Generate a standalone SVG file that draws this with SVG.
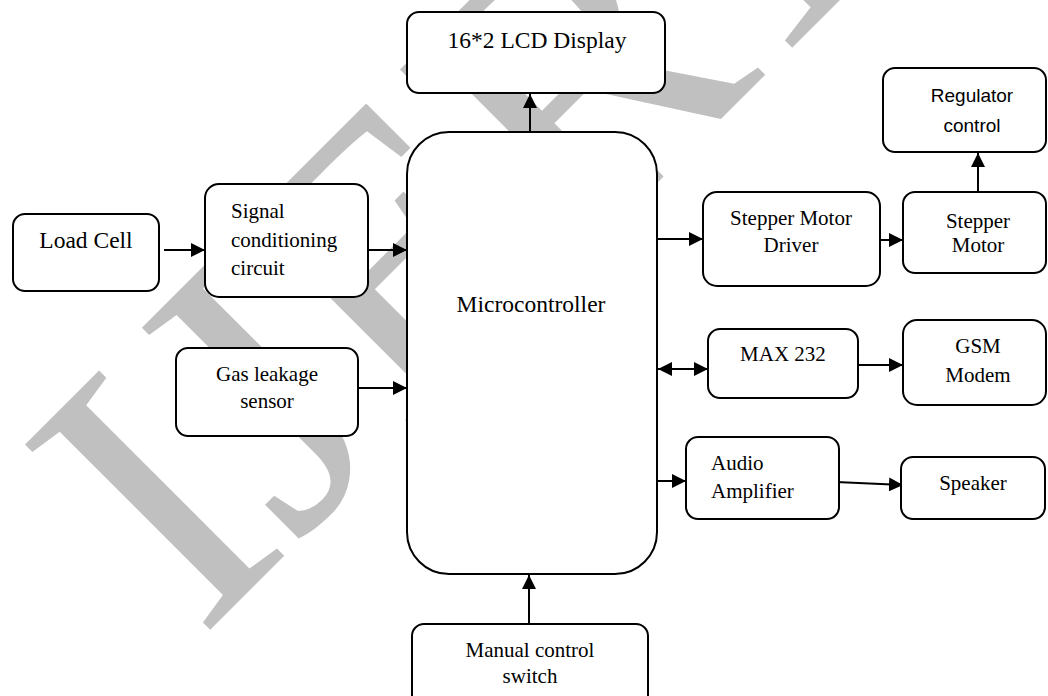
<svg xmlns="http://www.w3.org/2000/svg" width="1048" height="696" viewBox="0 0 1048 696">
  <style>
    .box { fill: #ffffff; stroke: #000000; stroke-width: 2; }
    .t { font-family: "Liberation Serif", "Times New Roman", serif; font-size: 21px; fill: #000000; }
    .tl { font-family: "Liberation Serif", "Times New Roman", serif; font-size: 23.5px; fill: #000000; }
    .ts { font-family: "Liberation Sans", Arial, sans-serif; font-size: 19px; fill: #000000; }
    .c { text-anchor: middle; }
    .wire { fill: none; stroke: #000000; stroke-width: 2; marker-end: url(#arrow); }
    .wm { font-family: "Liberation Serif", "Times New Roman", serif; font-size: 400px; fill: #c0c0c0; }
  </style>
  <defs>
    <marker id="arrow" markerUnits="userSpaceOnUse" markerWidth="14" markerHeight="14" refX="14" refY="7" orient="auto-start-reverse">
      <path d="M0,0 L14,7 L0,14 Z" fill="#000000"/>
    </marker>
  </defs>
  <rect width="1048" height="696" fill="#ffffff"/>

  <g id="watermark">
    <text class="wm" transform="translate(200,640) rotate(-45)" x="0" y="0">IJERT</text>
  </g>

  <g id="connectors">
    <line class="wire" x1="530" y1="132" x2="530" y2="94"/>
    <line class="wire" x1="164" y1="250" x2="205" y2="250"/>
    <line class="wire" x1="368" y1="250" x2="407" y2="250"/>
    <line class="wire" x1="358" y1="388" x2="407" y2="388"/>
    <line class="wire" x1="529" y1="624" x2="529" y2="575"/>
    <line class="wire" x1="657" y1="239" x2="703" y2="239"/>
    <line class="wire" x1="880" y1="240" x2="903" y2="240"/>
    <line class="wire" x1="978" y1="192" x2="978" y2="153"/>
    <line class="wire" x1="658" y1="369" x2="708" y2="369" marker-start="url(#arrow)"/>
    <line class="wire" x1="858" y1="365" x2="903" y2="365"/>
    <line class="wire" x1="657" y1="481" x2="686" y2="481"/>
    <line class="wire" x1="836" y1="482" x2="903" y2="485"/>
  </g>

  <g id="lcd">
    <rect class="box" x="407" y="12" width="258" height="81" rx="12"/>
    <text class="tl c" x="537" y="48">16*2 LCD Display</text>
  </g>

  <g id="microcontroller">
    <rect class="box" x="407" y="132" width="250" height="442" rx="42"/>
    <text class="tl c" x="531" y="312">Microcontroller</text>
  </g>

  <g id="load-cell">
    <rect class="box" x="13" y="214" width="146" height="77" rx="12"/>
    <text class="tl c" x="86" y="248">Load Cell</text>
  </g>

  <g id="signal-conditioning">
    <rect class="box" x="205" y="184" width="163" height="113" rx="14"/>
    <text class="t" x="231" y="218">Signal</text>
    <text class="t" x="231" y="247">conditioning</text>
    <text class="t" x="231" y="275">circuit</text>
  </g>

  <g id="gas-sensor">
    <rect class="box" x="176" y="348" width="182" height="88" rx="12"/>
    <text class="t c" x="267" y="381">Gas leakage</text>
    <text class="t c" x="267" y="408">sensor</text>
  </g>

  <g id="manual-switch">
    <rect class="box" x="412" y="624" width="236" height="90" rx="12"/>
    <text class="t c" x="530" y="657">Manual control</text>
    <text class="t c" x="530" y="683">switch</text>
  </g>

  <g id="stepper-driver">
    <rect class="box" x="703" y="192" width="177" height="94" rx="14"/>
    <text class="t c" x="791" y="225">Stepper Motor</text>
    <text class="t c" x="791" y="252">Driver</text>
  </g>

  <g id="stepper-motor">
    <rect class="box" x="903" y="192" width="143" height="81" rx="12"/>
    <text class="t c" x="978" y="228">Stepper</text>
    <text class="t c" x="978" y="252">Motor</text>
  </g>

  <g id="regulator">
    <rect class="box" x="883" y="68" width="163" height="84" rx="12"/>
    <text class="ts c" x="972" y="102">Regulator</text>
    <text class="ts c" x="972" y="132">control</text>
  </g>

  <g id="max232">
    <rect class="box" x="708" y="329" width="150" height="69" rx="12"/>
    <text class="t c" x="783" y="361">MAX 232</text>
  </g>

  <g id="gsm">
    <rect class="box" x="903" y="320" width="143" height="85" rx="14"/>
    <text class="t c" x="978" y="353">GSM</text>
    <text class="t c" x="978" y="382">Modem</text>
  </g>

  <g id="audio-amp">
    <rect class="box" x="686" y="437" width="153" height="82" rx="12"/>
    <text class="t" x="711" y="470">Audio</text>
    <text class="t" x="711" y="498">Amplifier</text>
  </g>

  <g id="speaker">
    <rect class="box" x="901" y="457" width="144" height="62" rx="12"/>
    <text class="t c" x="973" y="490">Speaker</text>
  </g>
</svg>
